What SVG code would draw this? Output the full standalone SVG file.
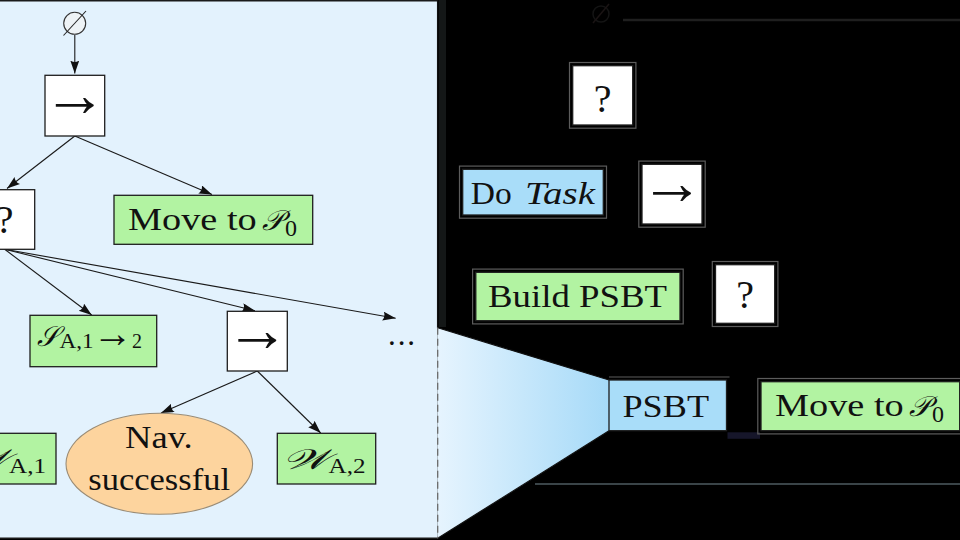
<svg xmlns="http://www.w3.org/2000/svg" width="960" height="540" viewBox="0 0 960 540">
<defs>
<style>
.box{stroke:#1e1e1e;stroke-width:1.3}
.white{fill:#ffffff}
.green{fill:#b2f3a2}
.blue{fill:#a9ddf9}
.halo{fill:none;stroke:#5c5c5c;stroke-width:1.2}
.t{font-family:"Liberation Serif","Times New Roman",serif;fill:#111}
.lab{font-size:31px}
.q{font-size:40px}
.arr{font-size:64px}
.sub{font-size:20px}
.cal{font-family:"DejaVu Serif","Liberation Serif",serif;font-style:italic;font-size:28px}
.edge{fill:none;stroke:#1a1a1a;stroke-width:1.1}
.edgeR{fill:none;stroke:#000;stroke-width:1.1}
</style>
<marker id="ah" markerUnits="userSpaceOnUse" markerWidth="14" markerHeight="10" refX="13" refY="4.5" orient="auto">
<path d="M0,0 L13,4.5 L0,9 Q3,4.5 0,0 Z" fill="#111"/>
</marker>
<marker id="ahR" markerUnits="userSpaceOnUse" markerWidth="14" markerHeight="10" refX="13" refY="4.5" orient="auto">
<path d="M0,0 L13,4.5 L0,9 Q3,4.5 0,0 Z" fill="#000"/>
</marker>
<linearGradient id="zoom" x1="0" y1="0" x2="1" y2="0">
<stop offset="0" stop-color="#e6f4fe"/>
<stop offset="1" stop-color="#a6daf8"/>
</linearGradient>
</defs>

<rect x="0" y="0" width="960" height="540" fill="#000"/>

<!-- left panel -->
<g id="panel">
<rect x="-5" y="0.7" width="442.7" height="537.6" fill="#e3f2fd"/>
<line x1="-5" y1="0.7" x2="437.7" y2="0.7" stroke="#1a1a1a" stroke-width="1.5"/>
<line x1="-5" y1="538.3" x2="437.7" y2="538.3" stroke="#1a1a1a" stroke-width="1.5"/>
<line x1="437.7" y1="0" x2="437.7" y2="327.7" stroke="#111" stroke-width="1.5"/>
<rect x="439" y="0" width="7" height="327" fill="#141717"/>
</g>

<!-- zoom trapezoid -->
<g id="zoom-wedge">
<polygon points="437.7,327.7 609,380 609,430.7 437.7,538.3" fill="url(#zoom)"/>
<line x1="437.7" y1="327.7" x2="609" y2="380" stroke="#111" stroke-width="1.2"/>
<line x1="437.7" y1="538.3" x2="609" y2="430.7" stroke="#111" stroke-width="1.2"/>
<line x1="437.7" y1="327.7" x2="437.7" y2="538.3" stroke="#6a6a6a" stroke-width="1.3" stroke-dasharray="7,4"/>
</g>

<!-- faint right-side remnants -->
<g id="right-frame">
<line x1="623" y1="20" x2="960" y2="20" stroke="#1f1f1f" stroke-width="2.5"/>
<line x1="535" y1="484" x2="960" y2="484" stroke="#3a4448" stroke-width="2"/>
<rect x="727.5" y="432.3" width="32.5" height="6.5" fill="#16162a"/>
</g>

<!-- connectors -->
<g id="connectors">
<line class="edge" x1="74.8" y1="35" x2="74.8" y2="73.5" marker-end="url(#ah)"/>
<line class="edge" x1="74.8" y1="136" x2="7" y2="188.5" marker-end="url(#ah)"/>
<line class="edge" x1="74.8" y1="136" x2="212" y2="194.5" marker-end="url(#ah)"/>
<line class="edge" x1="4.7" y1="249.3" x2="91.7" y2="315" marker-end="url(#ah)"/>
<line class="edge" x1="4.7" y1="249.3" x2="255" y2="310.8" marker-end="url(#ah)"/>
<line class="edge" x1="4.7" y1="249.3" x2="395.7" y2="318.3" marker-end="url(#ah)"/>
<line class="edge" x1="257.3" y1="371" x2="161" y2="413" marker-end="url(#ah)"/>
<line class="edge" x1="257.3" y1="371" x2="320.7" y2="433" marker-end="url(#ah)"/>
<line class="edgeR" x1="601" y1="25" x2="602.7" y2="65.7" marker-end="url(#ahR)"/>
<line class="edgeR" x1="602.7" y1="125" x2="533" y2="169.3" marker-end="url(#ahR)"/>
<line class="edgeR" x1="602.7" y1="125" x2="672" y2="164.3" marker-end="url(#ahR)"/>
<line class="edgeR" x1="672" y1="224" x2="578" y2="272.3" marker-end="url(#ahR)"/>
<line class="edgeR" x1="672" y1="224" x2="745" y2="264.7" marker-end="url(#ahR)"/>
<line class="edgeR" x1="745" y1="323.3" x2="668" y2="380" marker-end="url(#ahR)"/>
<line class="edgeR" x1="745" y1="323.3" x2="860" y2="381.7" marker-end="url(#ahR)"/>
</g>

<!-- left tree -->
<g id="root-empty">
<circle cx="74.7" cy="23.3" r="11" fill="#eef3f6" stroke="#333" stroke-width="1.1"/>
<line x1="63.5" y1="35.5" x2="86" y2="11" stroke="#222" stroke-width="1.1"/>
</g>
<g id="seq1">
<rect class="box white" x="45" y="75.3" width="59.7" height="60.7"/>
<text class="t arr" x="74.8" y="116" text-anchor="middle">→</text>
</g>
<g id="fallback1">
<rect class="box white" x="-25.3" y="189.7" width="60" height="59.6"/>
<text class="t q" x="4.7" y="233" text-anchor="middle">?</text>
</g>
<g id="move1">
<rect class="box green" x="114" y="195.3" width="198.7" height="49"/>
<text class="t lab" x="128" y="229.5" textLength="128.7" lengthAdjust="spacingAndGlyphs">Move to</text>
<text class="t cal" x="262" y="229.5" textLength="21" lengthAdjust="spacingAndGlyphs">𝒫</text>
<text class="t" x="285" y="236" font-size="24">0</text>
</g>
<g id="s12">
<rect class="box green" x="30" y="315.3" width="126.7" height="51.4"/>
<text class="t cal" x="36.7" y="345.5" textLength="21.6" lengthAdjust="spacingAndGlyphs">𝒮</text>
<text class="t sub" x="59.5" y="348" textLength="34" lengthAdjust="spacingAndGlyphs">A,1</text>
<text class="t" x="112.5" y="347" font-size="40" text-anchor="middle">→</text>
<text class="t sub" x="132" y="348">2</text>
</g>
<g id="seq2">
<rect class="box white" x="227.3" y="311.3" width="60" height="59.7"/>
<text class="t arr" x="257.3" y="351" text-anchor="middle">→</text>
</g>
<g id="more">
<text class="t lab" x="388" y="345" textLength="27" lengthAdjust="spacing">...</text>
</g>
<g id="w1">
<rect class="box green" x="-42.3" y="433.3" width="98.3" height="50.7"/>
<text class="t cal" x="-37.9" y="469.3" textLength="46" lengthAdjust="spacingAndGlyphs">𝒲</text>
<text class="t sub" x="9" y="473.3" textLength="37" lengthAdjust="spacingAndGlyphs">A,1</text>
</g>
<g id="nav">
<ellipse cx="159.3" cy="463.8" rx="93.3" ry="50.5" fill="#fdd49e" stroke="#9a8c76" stroke-width="1.1"/>
<text class="t lab" x="125" y="448.3" textLength="67.7" lengthAdjust="spacingAndGlyphs">Nav.</text>
<text class="t lab" x="88.3" y="490" textLength="141.7" lengthAdjust="spacingAndGlyphs">successful</text>
</g>
<g id="w2">
<rect class="box green" x="277.3" y="433.3" width="98.4" height="50.7"/>
<text class="t cal" x="281.7" y="469.3" textLength="46" lengthAdjust="spacingAndGlyphs">𝒲</text>
<text class="t sub" x="328.6" y="473.3" textLength="37" lengthAdjust="spacingAndGlyphs">A,2</text>
</g>

<!-- right tree (zoomed PSBT subtree) -->
<g id="r-empty">
<circle cx="601" cy="14" r="8" fill="none" stroke="#141414" stroke-width="1.5"/>
<line x1="593" y1="23" x2="609" y2="4" stroke="#1a1414" stroke-width="1.5"/>
</g>
<g id="r-fallback1">
<rect class="halo" x="569.5" y="62.5" width="66.4" height="65.7"/>
<rect class="box white" x="572.7" y="65.7" width="60" height="59.3"/>
<text class="t q" x="602.7" y="111.7" text-anchor="middle">?</text>
</g>
<g id="r-dotask">
<rect class="halo" x="459.5" y="166.1" width="147" height="52.1"/>
<rect class="box blue" x="462.7" y="169.3" width="140.6" height="45.7"/>
<text class="t lab" x="470.7" y="204" textLength="41" lengthAdjust="spacingAndGlyphs">Do</text>
<text class="t lab" x="525" y="204" font-style="italic" textLength="70" lengthAdjust="spacingAndGlyphs">Task</text>
</g>
<g id="r-seq">
<rect class="halo" x="638.8" y="161.1" width="66.4" height="66.1"/>
<rect class="box white" x="642" y="164.3" width="60" height="59.7"/>
<text class="t arr" x="672" y="204" text-anchor="middle">→</text>
</g>
<g id="r-build">
<rect class="halo" x="472.6" y="269.1" width="210.6" height="54.8"/>
<rect class="box green" x="475.8" y="272.3" width="204.2" height="48.4"/>
<text class="t lab" x="488" y="306.7" textLength="179" lengthAdjust="spacingAndGlyphs">Build PSBT</text>
</g>
<g id="r-fallback2">
<rect class="halo" x="712.3" y="261.5" width="65.6" height="65"/>
<rect class="box white" x="715.5" y="264.7" width="59.2" height="58.6"/>
<text class="t q" x="745.1" y="308.3" text-anchor="middle">?</text>
</g>
<g id="r-psbt">
<line x1="609" y1="377" x2="729.5" y2="377" stroke="#5c5c5c" stroke-width="1.2"/>
<rect class="box blue" x="609" y="380" width="117.5" height="50.7"/>
<text class="t lab" x="622.5" y="416.7" textLength="86.5" lengthAdjust="spacingAndGlyphs">PSBT</text>
</g>
<g id="r-move">
<rect class="halo" x="757.8" y="378.5" width="205" height="55.4"/>
<rect class="box green" x="761" y="381.7" width="198.7" height="49"/>
<text class="t lab" x="775" y="415.9" textLength="128.7" lengthAdjust="spacingAndGlyphs">Move to</text>
<text class="t cal" x="909" y="415.9" textLength="21" lengthAdjust="spacingAndGlyphs">𝒫</text>
<text class="t" x="932" y="422.4" font-size="24">0</text>
</g>
</svg>
